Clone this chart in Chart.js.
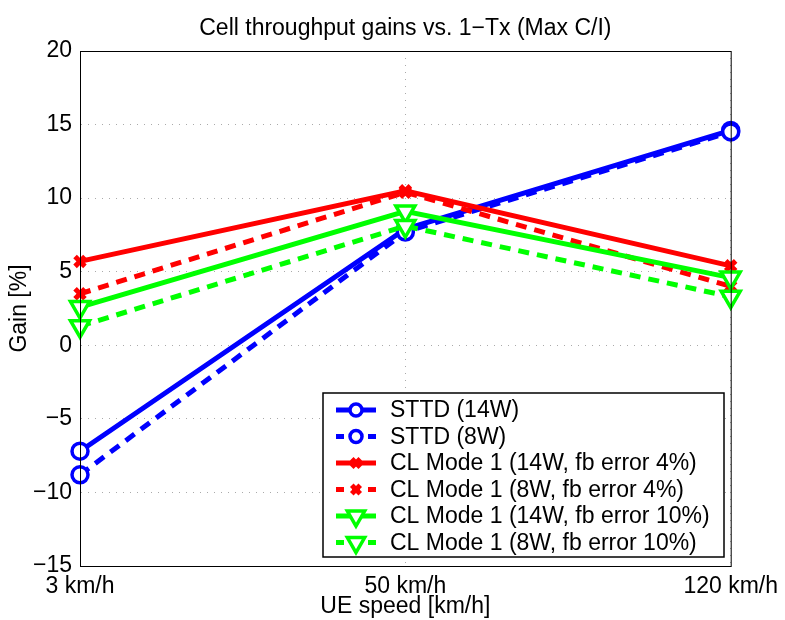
<!DOCTYPE html>
<html>
<head>
<meta charset="utf-8">
<script src="https://cdn.jsdelivr.net/npm/chart.js@4"></script>
<style>
  body { margin: 0; background: #fff; }
  canvas { display: block; }
</style>
</head>
<body>
<canvas id="myChart" width="785" height="620"></canvas>
<script>
// x-axis categories
var speeds = ['3 km/h', '50 km/h', '120 km/h'];
// y ticks
var yMin = -15, yMax = 20, yStep = 5;
// series, gain in %
var sttd14 = [-7.2, 7.9, 14.6];
var sttd8 = [-8.8, 7.7, 14.5];
var clMode14w4 = [5.7, 10.5, 5.4];
var clMode8w4 = [3.5, 10.4, 4.0];
var clMode14w10 = [2.6, 9.1, 4.6];
var clMode8w10 = [1.3, 8.1, 3.3];

var FONT = '"Liberation Sans", Arial, Helvetica, sans-serif';

function series(label, data, color, style, dashed, i) {
  var ds = {
    label: label,
    data: data,
    borderColor: color,
    backgroundColor: color,
    borderWidth: 5,
    borderDash: dashed ? [11, 8] : [],
    fill: false,
    tension: 0,
    pointStyle: style,
    pointBorderColor: color,
    pointBackgroundColor: '#fff',
    pointBorderWidth: 3.5,
    pointRadius: 8,
    order: 10 - i
  };
  if (style === 'triangle') {
    ds.pointRotation = 180;
    ds.pointRadius = 11;
  }
  if (style === 'crossRot') {
    ds.pointRadius = 7;
    ds.pointBorderWidth = 5;
  }
  return ds;
}

// frame, title and in-plot legend (MATLAB style)
var matlabLook = {
  id: 'matlabLook',
  afterDatasetsDraw: function(chart) {
    var ctx = chart.ctx, a = chart.chartArea;
    ctx.save();
    ctx.strokeStyle = '#000';
    ctx.lineWidth = 1;
    ctx.strokeRect(a.left + 0.5, a.top + 0.5, a.right - a.left, a.bottom - a.top);

    // legend box
    var bx = 323, by = 393, bw = 401, bh = 164;
    ctx.fillStyle = '#fff';
    ctx.fillRect(bx, by, bw, bh);
    ctx.lineWidth = 1.5;
    ctx.strokeRect(bx, by, bw, bh);
    ctx.font = '23px ' + FONT;
    ctx.textBaseline = 'middle';
    chart.data.datasets.forEach(function(ds, i) {
      var y = by + 17 + i * 26.5;
      ctx.strokeStyle = ds.borderColor;
      ctx.lineWidth = 5;
      ctx.setLineDash(ds.borderDash.length ? [8, 8] : []);
      ctx.beginPath();
      ctx.moveTo(336, y);
      ctx.lineTo(376, y);
      ctx.stroke();
      ctx.setLineDash([]);
      ctx.fillStyle = '#fff';
      ctx.lineWidth = ds.pointBorderWidth;
      Chart.helpers.drawPoint(ctx, {
        pointStyle: ds.pointStyle,
        rotation: ds.pointRotation || 0,
        radius: ds.pointStyle === 'triangle' ? 10 : 6,
        borderWidth: ds.pointBorderWidth
      }, 356, y);
      ctx.fillStyle = '#000';
      ctx.textAlign = 'left';
      ctx.fillText(ds.label, 390, y + 1);
    });

    // title
    ctx.fillStyle = '#000';
    ctx.font = '23px ' + FONT;
    ctx.textAlign = 'center';
    ctx.fillText('Cell throughput gains vs. 1\u2212Tx (Max C/I)', (a.left + a.right) / 2, 29);
    ctx.restore();
  }
};

var ctx = document.getElementById('myChart');
var myChart = new Chart(ctx, {
  type: 'line',
  data: {
    labels: speeds,
    datasets: [
      series('STTD (14W)', sttd14, '#0000ff', 'circle', false, 0),
      series('STTD (8W)', sttd8, '#0000ff', 'circle', true, 1),
      series('CL Mode 1 (14W, fb error 4%)', clMode14w4, '#ff0000', 'crossRot', false, 2),
      series('CL Mode 1 (8W, fb error 4%)', clMode8w4, '#ff0000', 'crossRot', true, 3),
      series('CL Mode 1 (14W, fb error 10%)', clMode14w10, '#00ff00', 'triangle', false, 4),
      series('CL Mode 1 (8W, fb error 10%)', clMode8w10, '#00ff00', 'triangle', true, 5)
    ]
  },
  options: {
    responsive: false,
    animation: false,
    layout: { padding: { top: 51, right: 51, left: 0, bottom: 0 } },
    plugins: {
      legend: { display: false },
      tooltip: { enabled: false },
      title: { display: false }
    },
    scales: {
      x: {
        offset: false,
        grid: { color: '#aaa', drawTicks: false },
        border: { dash: [1, 6], color: '#000' },
        ticks: { color: '#000', padding: 7, maxRotation: 0, font: { family: FONT, size: 23 } },
        title: { display: true, text: 'UE speed [km/h]', color: '#000', padding: { top: 0, bottom: 0 }, font: { family: FONT, size: 23 } },
        afterFit: function(s) { s.height = 54; }
      },
      y: {
        min: yMin,
        max: yMax,
        grid: { color: '#aaa', drawTicks: false },
        border: { dash: [1, 6], color: '#000' },
        ticks: {
          stepSize: yStep,
          color: '#000',
          padding: 8,
          font: { family: FONT, size: 23 },
          callback: function(v) { return String(v).replace('-', '\u2212'); }
        },
        title: { display: true, text: 'Gain [%]', color: '#000', padding: { top: 6, bottom: 0 }, font: { family: FONT, size: 23 } },
        afterFit: function(s) { s.width = 80; }
      }
    }
  },
  plugins: [matlabLook]
});
</script>
</body>
</html>
